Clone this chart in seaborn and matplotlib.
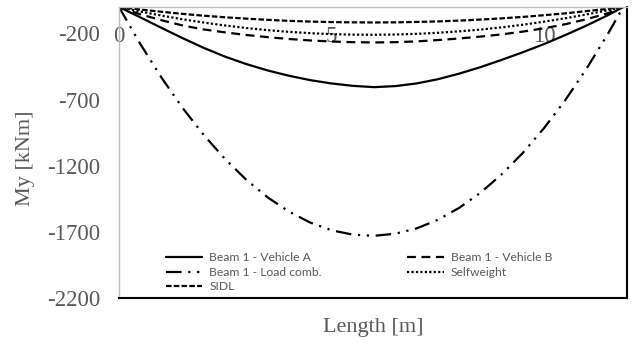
import matplotlib
matplotlib.use("Agg")
import matplotlib.pyplot as plt
import seaborn as sns
import pandas as pd

# beam positions [m]
length = [0, 0.5, 1, 1.5, 2, 2.5, 3, 3.5, 4, 4.5, 5, 5.5, 6, 6.5, 7, 7.5, 8,
          8.5, 9, 9.5, 10, 10.5, 11, 11.5, 11.86]

# bending moments My [kNm]
vehicle_a = [0, -78, -158, -236, -310, -376, -432, -480, -520, -553, -578, -596, -606,
             -598, -578, -546, -504, -455, -400, -342, -280, -212, -140, -62, 0]
vehicle_b = [0, -55, -100, -140, -170, -192, -212, -228, -242, -253, -261, -266, -268,
             -266, -260, -250, -238, -224, -207, -186, -161, -130, -92, -47, 0]
load_comb = [0, -279, -534, -765, -970, -1151, -1308, -1440, -1547, -1630, -1688, -1721, -1730,
             -1714, -1674, -1609, -1519, -1405, -1266, -1103, -915, -703, -465, -204, 0]
selfweight = [0, -34, -65, -93, -118, -140, -159, -175, -188, -198, -205, -209, -210,
              -208, -203, -195, -184, -171, -154, -134, -111, -85, -56, -25, 0]
sidl = [0, -19, -36, -52, -66, -78, -88, -97, -105, -110, -114, -116, -117,
        -116, -113, -109, -103, -95, -86, -75, -62, -48, -31, -14, 0]

names = ["Beam 1 - Vehicle A", "Beam 1 - Load comb.", "SIDL",
         "Beam 1 - Vehicle B", "Selfweight"]
series = [vehicle_a, load_comb, sidl, vehicle_b, selfweight]

rows = []
for name, vals in zip(names, series):
    for x, y in zip(length, vals):
        rows.append({"Length": x, "My": y, "case": name})
df = pd.DataFrame(rows)

dashes = {
    "Beam 1 - Vehicle A": "",
    "Beam 1 - Vehicle B": (4, 2.5),
    "Beam 1 - Load comb.": (7, 3, 1, 3, 1, 3),
    "Selfweight": (1, 1),
    "SIDL": (2.5, 1),
}

sns.set_style("white")
plt.rcParams["font.family"] = ["Liberation Serif", "DejaVu Serif"]
plt.rcParams["axes.unicode_minus"] = False

fig = plt.figure(figsize=(6.32, 3.45), dpi=100)
ax = fig.add_axes([119 / 632, 1 - 298 / 345, 508 / 632, 291 / 345])

sns.lineplot(data=df, x="Length", y="My", hue="case", style="case",
             hue_order=names, style_order=names,
             palette=["black"] * 5, dashes=dashes, linewidth=1.6,
             ax=ax, legend=False)

ax.set_xlim(0, 11.95)
ax.set_ylim(-2200, 0)
ax.set_yticks([-2200, -1700, -1200, -700, -200])
ax.set_xticks([0, 5, 10])

grey = "#595959"
ax.tick_params(axis="x", top=False, bottom=False, labeltop=True, labelbottom=False,
               length=0, pad=-29, labelsize=16.5, labelcolor=grey)
ax.tick_params(axis="y", left=False, length=0, pad=13.5, labelsize=16.5, labelcolor=grey)

for side in ["left", "top"]:
    ax.spines[side].set_color("#bfbfbf")
    ax.spines[side].set_linewidth(1.0)
for side in ["bottom", "right"]:
    ax.spines[side].set_color("black")
    ax.spines[side].set_linewidth(1.5)

ax.set_xlabel("Length [m]", fontsize=16, color=grey)
ax.set_ylabel("My [kNm]", fontsize=16, color=grey)
ax.xaxis.set_label_coords(0.5, -0.07)
ax.yaxis.set_label_coords(-0.165, 0.48)

handles = ax.get_lines()[:5]
leg = ax.legend(handles, names, ncol=2, frameon=False, loc="upper left",
                bbox_to_anchor=(0.08, 0.178), borderpad=0, handlelength=3.0,
                handletextpad=0.6, labelspacing=0.3, columnspacing=7.1,
                prop={"family": "Lato", "size": 8.7})
for t in leg.get_texts():
    t.set_color(grey)

fig.savefig("out.png", dpi=100)
